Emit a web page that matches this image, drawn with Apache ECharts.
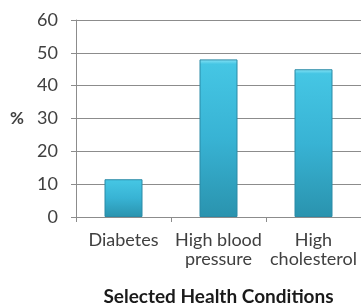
<!DOCTYPE html>
<html lang="en" style="height: 100%">

<head>
  <meta charset="utf-8">
  <title>Selected Health Conditions</title>
  <script src="https://cdn.jsdelivr.net/npm/echarts@6/dist/echarts.min.js"></script>
</head>

<body style="height: 100%; margin: 0; background: #fff">
  <div id="chart" style="height: 303px; width: 361px"></div>
  <script type="text/javascript">
    const categories = ['Diabetes', 'High blood\npressure', 'High\ncholesterol'];
    const percentValues = [11.5, 48, 45];
    const yTicks = [0, 10, 20, 30, 40, 50, 60];

    const chart = echarts.init(document.getElementById('chart'));
    const textColor = '#404040';
    const fontFamily = 'Lato, "Open Sans", sans-serif';

    const option = {
      animation: false,
      grid: {
        left: 76,
        right: 0,
        top: 20,
        bottom: 86,
        outerBoundsMode: 'none'
      },
      xAxis: {
        type: 'category',
        data: categories,
        name: 'Selected Health Conditions',
        nameLocation: 'middle',
        nameGap: 70,
        nameTextStyle: {
          color: '#1a1a1a',
          fontSize: 19,
          fontWeight: 'bold',
          fontFamily: fontFamily
        },
        axisLine: { lineStyle: { color: '#8c8c8c', width: 1 } },
        axisTick: { show: true, length: 5, lineStyle: { color: '#8c8c8c' } },
        axisLabel: {
          color: textColor,
          fontSize: 18,
          fontFamily: fontFamily,
          margin: 14,
          lineHeight: 19,
          interval: 0
        }
      },
      yAxis: {
        type: 'value',
        min: yTicks[0],
        max: yTicks[yTicks.length - 1],
        interval: 10,
        name: '%',
        nameLocation: 'middle',
        nameRotate: 0,
        nameGap: 52,
        nameTextStyle: {
          color: textColor,
          fontSize: 17,
          fontWeight: 'bold',
          fontFamily: fontFamily
        },
        axisLine: { show: true, lineStyle: { color: '#8c8c8c' } },
        axisTick: { show: true, length: 5, lineStyle: { color: '#8c8c8c' } },
        axisLabel: {
          color: textColor,
          fontSize: 18,
          fontFamily: fontFamily,
          margin: 18
        },
        splitLine: { lineStyle: { color: '#8c8c8c', width: 1 } }
      },
      series: [{
        type: 'bar',
        data: percentValues,
        barWidth: 38,
        itemStyle: {
          borderColor: '#2a8aa6',
          borderWidth: 1,
          color: new echarts.graphic.LinearGradient(0, 0, 0, 1, [
            { offset: 0, color: '#8ae4f7' },
            { offset: 0.03, color: '#45c6e4' },
            { offset: 0.5, color: '#38b3d4' },
            { offset: 1, color: '#2a93ae' }
          ])
        }
      }]
    };
    chart.setOption(option);
  </script>
</body>

</html>
